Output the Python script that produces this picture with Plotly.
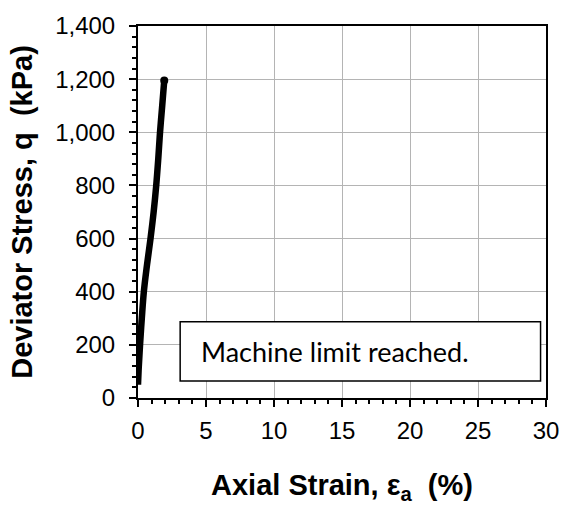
import plotly.graph_objects as go

# Data
axial_strain = [0.0, 0.06, 0.15, 0.28, 0.43, 0.66, 0.92, 1.15, 1.34, 1.49, 1.62, 1.78, 1.93]
deviator_stress = [50, 120, 200, 300, 400, 500, 600, 700, 800, 900, 1000, 1100, 1195]

x_ticks = [0, 5, 10, 15, 20, 25, 30]
y_ticks = [0, 200, 400, 600, 800, 1000, 1200, 1400]
y_ticklabels = ["0", "200", "400", "600", "800", "1,000", "1,200", "1,400"]
note_text = "Machine limit reached."

fig = go.Figure()
fig.add_trace(go.Scatter(
    x=axial_strain, y=deviator_stress, mode="lines",
    line=dict(color="black", width=6.5, shape="spline", smoothing=1),
    showlegend=False, hoverinfo="skip", cliponaxis=False,
))
fig.add_trace(go.Scatter(
    x=axial_strain[-1:], y=deviator_stress[-1:], mode="markers",
    marker=dict(color="black", size=8),
    showlegend=False, hoverinfo="skip", cliponaxis=False,
))

tick_font = dict(family="Liberation Sans, Arial, sans-serif", size=24, color="black")
title_font = dict(family="Liberation Sans, Arial, sans-serif", size=29, color="black")

fig.update_xaxes(
    range=[0, 30], tickvals=x_ticks, ticktext=[str(v) for v in x_ticks],
    showline=True, linecolor="black", linewidth=2, mirror=True,
    ticks="outside", ticklen=7, tickwidth=1.5, tickcolor="black",
    minor=dict(dtick=1, ticks="outside", ticklen=4, tickwidth=1.5, tickcolor="black", showgrid=False),
    showgrid=True, gridcolor="#b4b4b4", gridwidth=1, zeroline=False,
    tickfont=tick_font, ticklabelstandoff=3,
    title=dict(text="<b>Axial Strain, ε<sub>a</sub>  (%)</b>", font=title_font, standoff=32),
)
fig.update_yaxes(
    range=[0, 1400], tickvals=y_ticks, ticktext=y_ticklabels,
    showline=True, linecolor="black", linewidth=2, mirror=True,
    ticks="outside", ticklen=7, tickwidth=1.5, tickcolor="black",
    minor=dict(dtick=40, ticks="outside", ticklen=4, tickwidth=1.5, tickcolor="black", showgrid=False),
    showgrid=True, gridcolor="#b4b4b4", gridwidth=1, zeroline=False,
    tickfont=tick_font, ticklabelstandoff=9,
    title=dict(text="<b>Deviator Stress, q  (kPa)</b>", font=title_font, standoff=14),
)

fig.add_shape(type="rect", xref="x", yref="y", x0=3.1, x1=29.6, y0=64, y1=287,
              line=dict(color="black", width=1.5), fillcolor="white", layer="above")
fig.add_annotation(x=4.5, y=175, xref="x", yref="y", text=note_text, showarrow=False,
                   xanchor="left", yanchor="middle",
                   font=dict(family="Lato, Carlito, sans-serif", size=27, color="black"))

fig.update_layout(
    width=571, height=508,
    margin=dict(l=138, r=15, t=19, b=103),
    plot_bgcolor="white", paper_bgcolor="white",
)

fig.write_html("out.html")
